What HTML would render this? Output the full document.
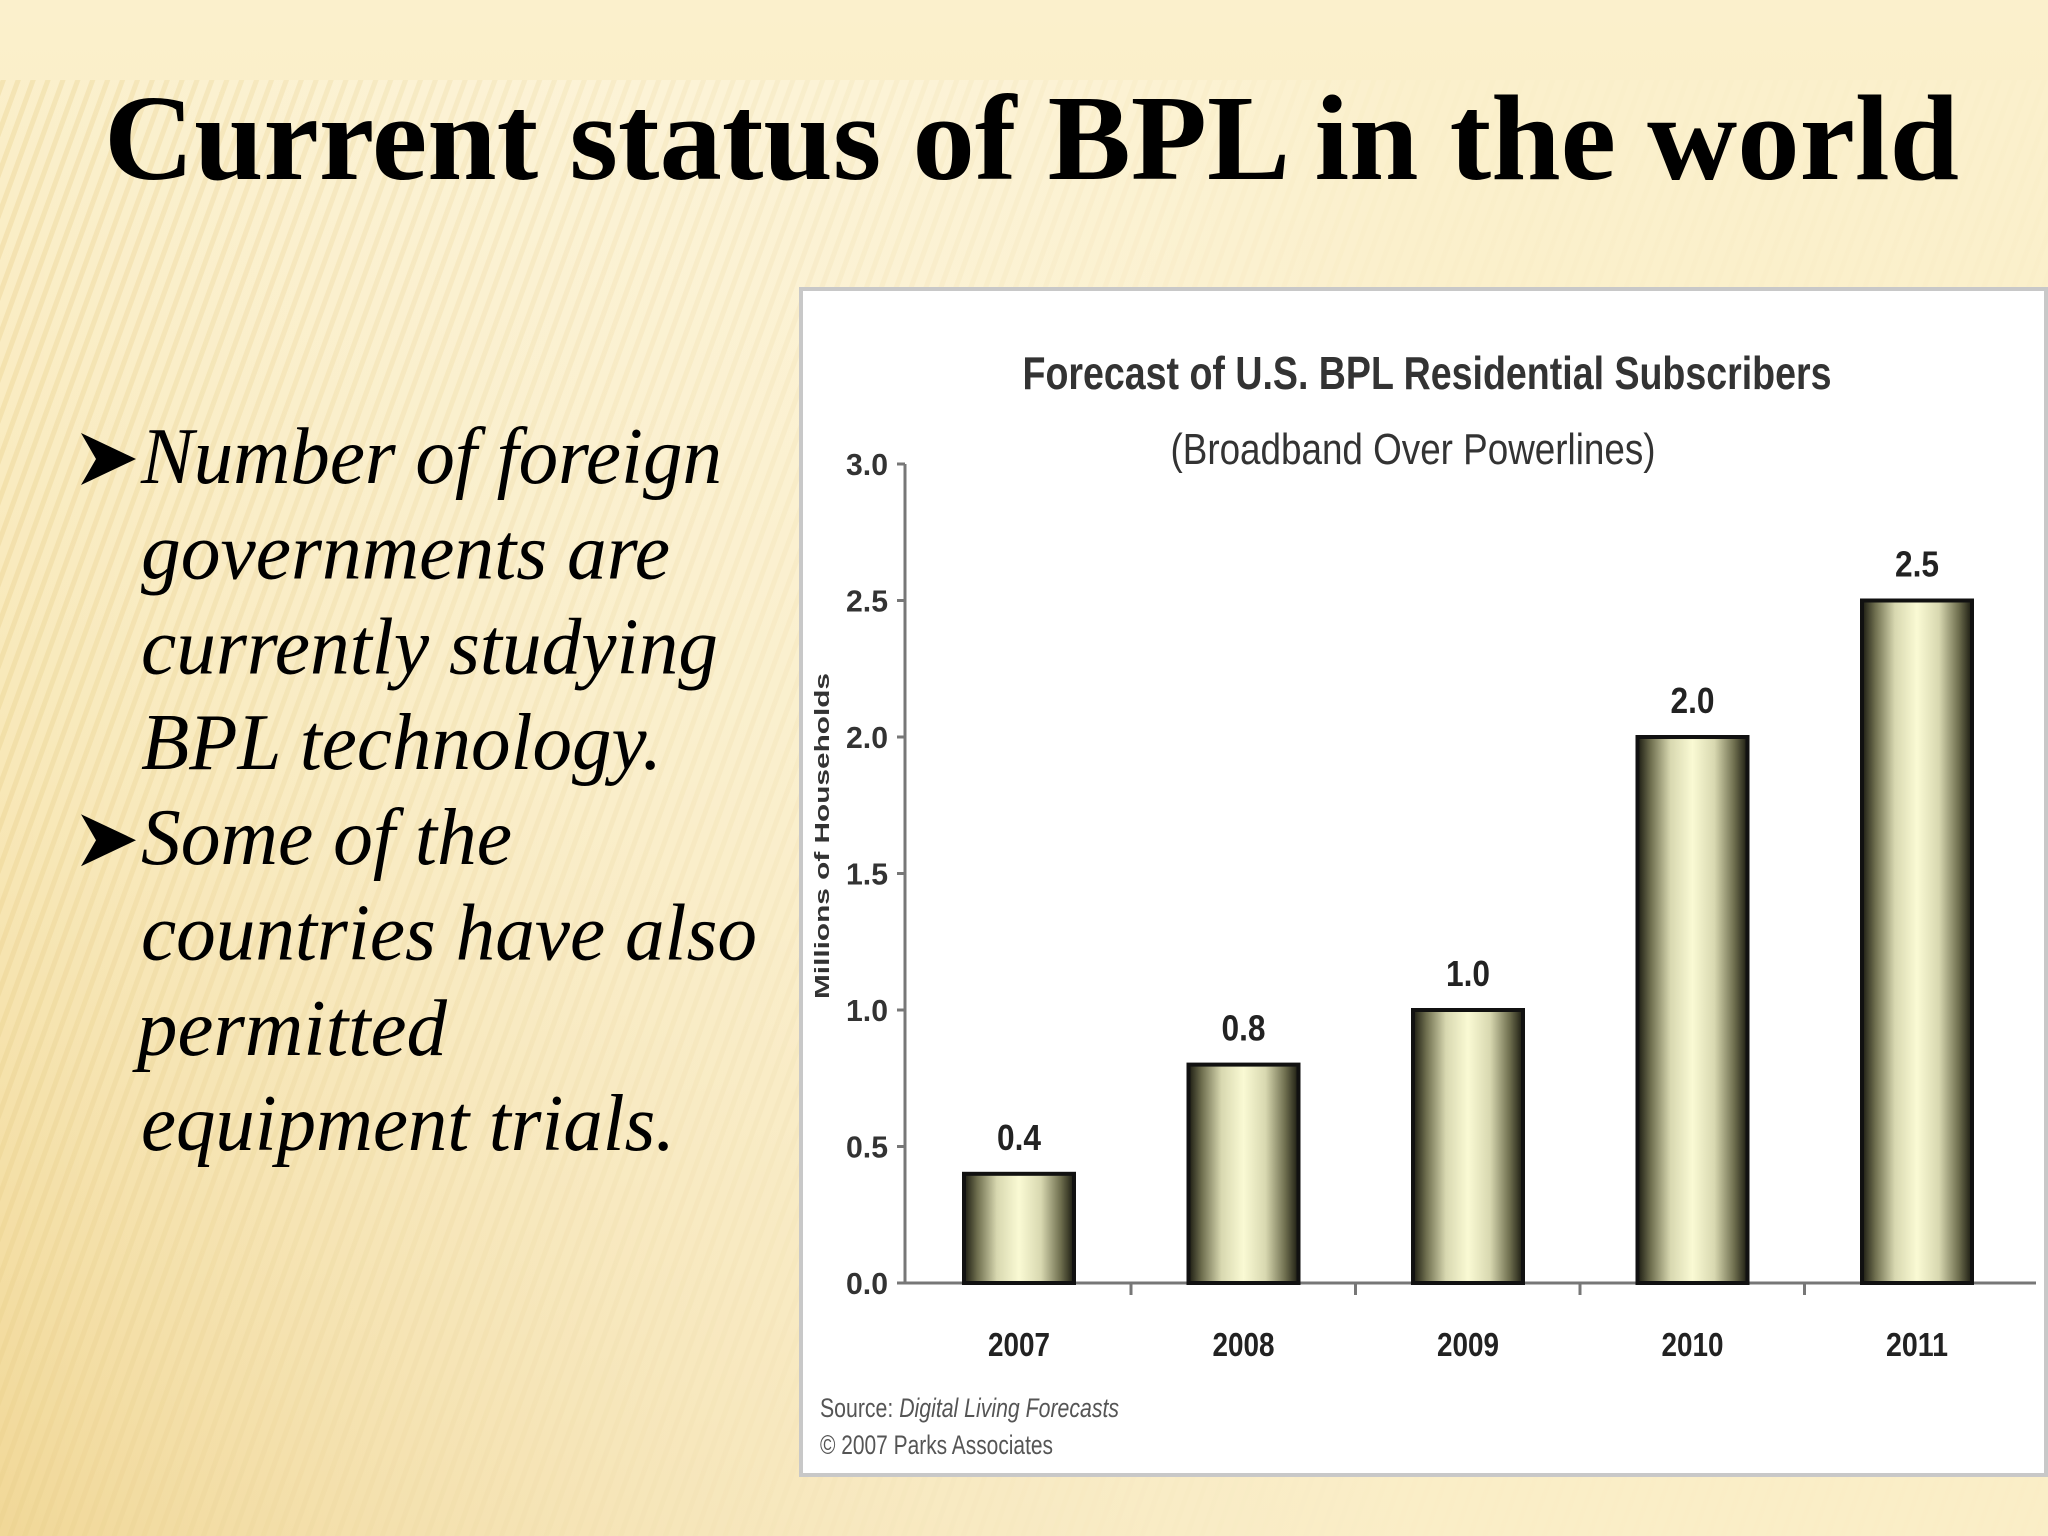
<!DOCTYPE html>
<html><head><meta charset="utf-8"><style>
html,body{margin:0;padding:0;width:2048px;height:1536px;overflow:hidden}
svg{display:block}
</style></head><body>
<svg id="slide" width="2048" height="1536" viewBox="0 0 2048 1536" xmlns="http://www.w3.org/2000/svg">
<defs>
<linearGradient id="bg" x1="0" y1="0" x2="0" y2="1">
<stop offset="0" stop-color="#fbf0cc"/><stop offset="0.5" stop-color="#f8e8b8"/><stop offset="1" stop-color="#f1d898"/></linearGradient>
<pattern id="stripes" width="14" height="14" patternUnits="userSpaceOnUse" patternTransform="rotate(20)">
<rect width="5" height="14" fill="#e8cf8a" opacity="0.35"/></pattern>
<linearGradient id="fade" x1="0" y1="0" x2="1" y2="0">
<stop offset="0" stop-color="#fff" stop-opacity="0"/><stop offset="0.7" stop-color="#fbf0cc" stop-opacity="0.9"/></linearGradient>
<linearGradient id="barg" x1="0" y1="0" x2="1" y2="0">
<stop offset="0" stop-color="#1a1a10"/><stop offset="0.12" stop-color="#6e6e4e"/><stop offset="0.3" stop-color="#d8d8b0"/><stop offset="0.5" stop-color="#fafad4"/><stop offset="0.7" stop-color="#d8d8b0"/><stop offset="0.88" stop-color="#6e6e4e"/><stop offset="1" stop-color="#1a1a10"/></linearGradient>
</defs>
<rect width="2048" height="1536" fill="url(#bg)"/>
<rect y="80" width="2048" height="1456" fill="url(#stripes)"/>
<rect y="80" width="2048" height="1456" fill="url(#fade)"/>
<text x="104" y="179" textLength="1855" lengthAdjust="spacingAndGlyphs" font-family="Liberation Serif, serif" font-weight="bold" font-size="122" fill="#000">Current status of BPL in the world</text>
<g font-family="Liberation Serif, serif" font-style="italic" font-size="80" fill="#000" id="bullets"></g>
<g id="chart"></g>
</svg>
<script>
const NS='http://www.w3.org/2000/svg';
function mk(tag,attrs,parent,text){const e=document.createElementNS(NS,tag);for(const k in attrs)e.setAttribute(k,attrs[k]);if(text!==undefined)e.textContent=text;parent.appendChild(e);return e;}
const lines=[["Number of foreign",141,722,true],["governments are",141,670],["currently studying",141,718],["BPL technology.",141,662],["Some of the",141,512,true],["countries have also",141,757],["permitted",137,447],["equipment trials.",141,675]];
const bl=document.getElementById('bullets');
lines.forEach((l,i)=>{const y=483+i*95.3;
 const t=mk('text',{x:l[1],y:y,textLength:l[2]-l[1],lengthAdjust:'spacingAndGlyphs'},bl,l[0]);
 
 
 if(l[3]){const cy=y-24;const a=mk('path',{d:`M81 ${cy-26} L136 ${cy} L81 ${cy+26} L96 ${cy} Z`,fill:'#000'},bl);
  
  }
});
const categories=["2007","2008","2009","2010","2011"];
const values=[0.4,0.8,1.0,2.0,2.5];
const valueLabels=["0.4","0.8","1.0","2.0","2.5"];
const yTicks=[0,0.5,1.0,1.5,2.0,2.5,3.0];
const yTickLabels=["0.0","0.5","1.0","1.5","2.0","2.5","3.0"];
const ch=document.getElementById('chart');
const x0=905,x1=2030,yBase=1283,yTop=464,yMax=3;
const yS=v=>yBase-(yBase-yTop)*v/yMax;
const xC=i=>1019+i*224.5;
const panel=mk('rect',{x:801,y:289,width:1245,height:1186,fill:'#fff',stroke:'#c8c8c8','stroke-width':4},ch);


const f='Liberation Sans, sans-serif';
let t=mk('text',{x:1427,y:389,'text-anchor':'middle','font-family':f,'font-weight':'bold','font-size':46,fill:'#333',textLength:809,lengthAdjust:'spacingAndGlyphs'},ch,'Forecast of U.S. BPL Residential Subscribers');


t=mk('text',{x:1413,y:464,'text-anchor':'middle','font-family':f,'font-size':44,fill:'#333',textLength:485,lengthAdjust:'spacingAndGlyphs'},ch,'(Broadband Over Powerlines)');


let ax=mk('line',{x1:x0,y1:yTop,x2:x0,y2:yBase,stroke:'#777','stroke-width':3},ch);


ax=mk('line',{x1:x0,y1:yBase,x2:2036,y2:yBase,stroke:'#777','stroke-width':3},ch);


yTicks.forEach((v,i)=>{const y=yS(v);
 const tk=mk('line',{x1:x0-8,y1:y,x2:x0,y2:y,stroke:'#777','stroke-width':3},ch);
 
 
 const lb=mk('text',{x:888,y:y+11,'text-anchor':'end','font-family':f,'font-weight':'bold','font-size':31,fill:'#333',textLength:42,lengthAdjust:'spacingAndGlyphs'},ch,yTickLabels[i]);
 
 
});
for(let i=0;i<categories.length-1;i++){const xt=xC(i)+112;
 const tk=mk('line',{x1:xt,y1:yBase,x2:xt,y2:yBase+12,stroke:'#777','stroke-width':3},ch);
 
 }
t=mk('text',{x:0,y:0,transform:'translate(829,836) rotate(-90)','text-anchor':'middle','font-family':f,'font-weight':'bold','font-size':20,fill:'#333',textLength:326,lengthAdjust:'spacingAndGlyphs'},ch,'Millions of Households');


categories.forEach((c,i)=>{const cx=xC(i),w=110,top=yS(values[i]);
 const b=mk('rect',{x:cx-w/2,y:top,width:w,height:yBase-top,fill:'url(#barg)',stroke:'#111','stroke-width':4},ch);
 
 
 const vl=mk('text',{x:cx,y:top-24,'text-anchor':'middle','font-family':f,'font-weight':'bold','font-size':36,fill:'#222',textLength:44,lengthAdjust:'spacingAndGlyphs'},ch,valueLabels[i]);
 
 
 const xl=mk('text',{x:cx,y:1356,'text-anchor':'middle','font-family':f,'font-weight':'bold','font-size':33,fill:'#222',textLength:62,lengthAdjust:'spacingAndGlyphs'},ch,c);
 
 
});
t=mk('text',{x:820,y:1417,'font-family':f,'font-size':27,fill:'#555',textLength:299,lengthAdjust:'spacingAndGlyphs'},ch);


mk('tspan',{},t,'Source: ');mk('tspan',{'font-style':'italic'},t,'Digital Living Forecasts');
t=mk('text',{x:820,y:1454,'font-family':f,'font-size':27,fill:'#555',textLength:233,lengthAdjust:'spacingAndGlyphs'},ch,'© 2007 Parks Associates');


</script>
</body></html>
